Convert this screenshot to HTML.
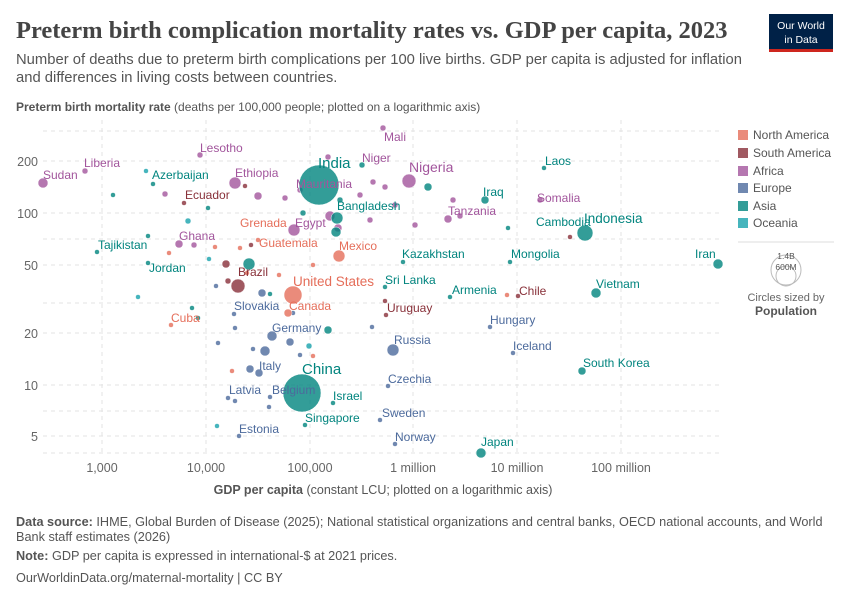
<!DOCTYPE html>
<html><head><meta charset="utf-8"><style>
body{margin:0;background:#fff;font-family:"Liberation Sans",sans-serif;}
</style></head><body>
<svg width="850" height="600" xmlns="http://www.w3.org/2000/svg" font-family="Liberation Sans, sans-serif">
<text x="16" y="38" font-family="Liberation Serif, serif" font-size="24.5" font-weight="bold" fill="#444">Preterm birth complication mortality rates vs. GDP per capita, 2023</text>
<text x="16" y="64" font-size="14.8" fill="#555">Number of deaths due to preterm birth complications per 100 live births. GDP per capita is adjusted for inflation</text>
<text x="16" y="82" font-size="14.8" fill="#555">and differences in living costs between countries.</text>
<rect x="769" y="14" width="64" height="36" fill="#002147"/>
<rect x="769" y="49" width="64" height="3" fill="#ce261e"/>
<text x="801" y="29" font-size="10.5" fill="#fff" text-anchor="middle">Our World</text>
<text x="801" y="43" font-size="10.5" fill="#fff" text-anchor="middle">in Data</text>
<text x="16" y="111" font-size="12" fill="#555"><tspan font-weight="bold">Preterm birth mortality rate</tspan> (deaths per 100,000 people; plotted on a logarithmic axis)</text>
<g stroke="#e3e3e3" stroke-dasharray="4,4" stroke-width="1">
<line x1="43" x2="722" y1="131" y2="131"/><line x1="43" x2="722" y1="161" y2="161"/><line x1="43" x2="722" y1="213" y2="213"/><line x1="43" x2="722" y1="239" y2="239"/><line x1="43" x2="722" y1="265" y2="265"/><line x1="43" x2="722" y1="303" y2="303"/><line x1="43" x2="722" y1="333" y2="333"/><line x1="43" x2="722" y1="385" y2="385"/><line x1="43" x2="722" y1="411" y2="411"/><line x1="43" x2="722" y1="436" y2="436"/><line x1="43" x2="722" y1="453" y2="453"/>
<line x1="102" x2="102" y1="120" y2="453"/><line x1="206" x2="206" y1="120" y2="453"/><line x1="310" x2="310" y1="120" y2="453"/><line x1="413" x2="413" y1="120" y2="453"/><line x1="517" x2="517" y1="120" y2="453"/><line x1="621" x2="621" y1="120" y2="453"/>
</g>
<g font-size="12.5" fill="#666" text-anchor="end">
<text x="38" y="166">200</text><text x="38" y="218">100</text><text x="38" y="270">50</text><text x="38" y="338">20</text><text x="38" y="390">10</text><text x="38" y="441">5</text>
</g>
<g font-size="12.5" fill="#666" text-anchor="middle">
<text x="102" y="472">1,000</text><text x="206" y="472">10,000</text><text x="310" y="472">100,000</text><text x="413" y="472">1 million</text><text x="517" y="472">10 million</text><text x="621" y="472">100 million</text>
</g>
<text x="383" y="494" font-size="12.5" fill="#555" text-anchor="middle"><tspan font-weight="bold">GDP per capita</tspan> (constant LCU; plotted on a logarithmic axis)</text>
<g fill-opacity="0.8" stroke="#fff" stroke-width="0.5">
<g fill="#a2559c">
<circle cx="43" cy="183" r="5"/><circle cx="85" cy="171" r="3"/><circle cx="200" cy="155" r="3"/><circle cx="235" cy="183" r="6"/><circle cx="258" cy="196" r="4"/><circle cx="165" cy="194" r="3"/><circle cx="179" cy="244" r="4"/><circle cx="194" cy="245" r="3"/><circle cx="294" cy="230" r="6"/><circle cx="383" cy="128" r="3"/><circle cx="409" cy="181" r="7"/><circle cx="328" cy="157" r="3"/><circle cx="448" cy="219" r="4"/><circle cx="330" cy="216" r="5"/><circle cx="338" cy="228" r="4"/><circle cx="373" cy="182" r="3"/><circle cx="360" cy="195" r="3"/><circle cx="385" cy="187" r="3"/><circle cx="460" cy="216" r="3"/><circle cx="540" cy="200" r="3"/><circle cx="285" cy="198" r="3"/><circle cx="300" cy="190" r="3"/><circle cx="395" cy="205" r="3"/><circle cx="453" cy="200" r="3"/><circle cx="370" cy="220" r="3"/><circle cx="415" cy="225" r="3"/>
</g>
<g fill="#00847e">
<circle cx="319" cy="185" r="20"/><circle cx="302" cy="393" r="19"/><circle cx="585" cy="233" r="8"/><circle cx="337" cy="218" r="6"/><circle cx="336" cy="232" r="5"/><circle cx="97" cy="252" r="2.5"/><circle cx="148" cy="263" r="2.5"/><circle cx="153" cy="184" r="2.5"/><circle cx="113" cy="195" r="2.5"/><circle cx="148" cy="236" r="2.5"/><circle cx="249" cy="264" r="6"/><circle cx="718" cy="264" r="5"/><circle cx="596" cy="293" r="5"/><circle cx="582" cy="371" r="4"/><circle cx="481" cy="453" r="5"/><circle cx="485" cy="200" r="4"/><circle cx="428" cy="187" r="4"/><circle cx="328" cy="330" r="4"/><circle cx="305" cy="425" r="2.5"/><circle cx="333" cy="403" r="2.5"/><circle cx="544" cy="168" r="2.5"/><circle cx="403" cy="262" r="2.5"/><circle cx="385" cy="287" r="2.5"/><circle cx="450" cy="297" r="2.5"/><circle cx="510" cy="262" r="2.5"/><circle cx="508" cy="228" r="2.5"/><circle cx="303" cy="213" r="3"/><circle cx="208" cy="208" r="2.5"/><circle cx="192" cy="308" r="2.5"/><circle cx="198" cy="318" r="2.5"/><circle cx="340" cy="200" r="3"/><circle cx="362" cy="165" r="3"/><circle cx="270" cy="294" r="2.5"/>
</g>
<g fill="#4c6a9c">
<circle cx="393" cy="350" r="6"/><circle cx="262" cy="293" r="4"/><circle cx="272" cy="336" r="5"/><circle cx="265" cy="351" r="5"/><circle cx="250" cy="369" r="4"/><circle cx="259" cy="373" r="4"/><circle cx="290" cy="342" r="4"/><circle cx="234" cy="314" r="2.5"/><circle cx="235" cy="328" r="2.5"/><circle cx="218" cy="343" r="2.5"/><circle cx="228" cy="398" r="2.5"/><circle cx="235" cy="401" r="2.5"/><circle cx="270" cy="397" r="2.5"/><circle cx="269" cy="407" r="2.5"/><circle cx="239" cy="436" r="2.5"/><circle cx="388" cy="386" r="2.5"/><circle cx="380" cy="420" r="2.5"/><circle cx="395" cy="444" r="2.5"/><circle cx="490" cy="327" r="2.5"/><circle cx="513" cy="353" r="2.5"/><circle cx="372" cy="327" r="2.5"/><circle cx="216" cy="286" r="2.5"/><circle cx="300" cy="355" r="2.5"/><circle cx="293" cy="313" r="2.5"/><circle cx="253" cy="349" r="2.5"/>
</g>
<g fill="#e56e5a">
<circle cx="293" cy="295" r="9"/><circle cx="339" cy="256" r="6"/><circle cx="288" cy="313" r="4"/><circle cx="171" cy="325" r="2.5"/><circle cx="240" cy="248" r="2.5"/><circle cx="258" cy="240" r="2.5"/><circle cx="169" cy="253" r="2.5"/><circle cx="215" cy="247" r="2.5"/><circle cx="313" cy="356" r="2.5"/><circle cx="507" cy="295" r="2.5"/><circle cx="247" cy="273" r="2.5"/><circle cx="313" cy="265" r="2.5"/><circle cx="279" cy="275" r="2.5"/><circle cx="232" cy="371" r="2.5"/>
</g>
<g fill="#883039">
<circle cx="238" cy="286" r="7"/><circle cx="226" cy="264" r="4"/><circle cx="228" cy="281" r="3"/><circle cx="184" cy="203" r="2.5"/><circle cx="245" cy="186" r="2.5"/><circle cx="251" cy="245" r="2.5"/><circle cx="386" cy="315" r="2.5"/><circle cx="518" cy="296" r="2.5"/><circle cx="570" cy="237" r="2.5"/><circle cx="385" cy="301" r="2.5"/>
</g>
<g fill="#18a3ad">
<circle cx="146" cy="171" r="2.5"/><circle cx="138" cy="297" r="2.5"/><circle cx="217" cy="426" r="2.5"/><circle cx="309" cy="346" r="3"/><circle cx="188" cy="221" r="3"/><circle cx="209" cy="259" r="2.5"/>
</g>
</g>
<g font-size="12">
<g fill="#a2559c"><text x="43" y="179">Sudan</text><text x="84" y="167">Liberia</text><text x="200" y="152">Lesotho</text><text x="235" y="177">Ethiopia</text><text x="296" y="188">Mauritania</text><text x="295" y="227">Egypt</text><text x="179" y="240">Ghana</text><text x="384" y="141">Mali</text><text x="362" y="162">Niger</text><text x="409" y="172" font-size="14">Nigeria</text><text x="448" y="215">Tanzania</text><text x="537" y="202">Somalia</text></g>
<g fill="#00847e"><text x="152" y="179">Azerbaijan</text><text x="98" y="249">Tajikistan</text><text x="149" y="272">Jordan</text><text x="318" y="168" font-size="15">India</text><text x="337" y="210">Bangladesh</text><text x="545" y="165">Laos</text><text x="483" y="196">Iraq</text><text x="536" y="226">Cambodia</text><text x="584" y="223" font-size="13.5">Indonesia</text><text x="402" y="258">Kazakhstan</text><text x="511" y="258">Mongolia</text><text x="695" y="258">Iran</text><text x="385" y="284">Sri Lanka</text><text x="452" y="294">Armenia</text><text x="596" y="288">Vietnam</text><text x="583" y="367">South Korea</text><text x="302" y="374" font-size="15">China</text><text x="333" y="400">Israel</text><text x="305" y="422">Singapore</text><text x="481" y="446">Japan</text></g>
<g fill="#4c6a9c"><text x="234" y="310">Slovakia</text><text x="272" y="332">Germany</text><text x="259" y="370">Italy</text><text x="229" y="394">Latvia</text><text x="272" y="394">Belgium</text><text x="239" y="433">Estonia</text><text x="394" y="344">Russia</text><text x="388" y="383">Czechia</text><text x="382" y="417">Sweden</text><text x="395" y="441">Norway</text><text x="490" y="324">Hungary</text><text x="513" y="350">Iceland</text></g>
<g fill="#e56e5a"><text x="240" y="227">Grenada</text><text x="259" y="247">Guatemala</text><text x="339" y="250">Mexico</text><text x="293" y="286" font-size="13.5">United States</text><text x="289" y="310">Canada</text><text x="171" y="322">Cuba</text></g>
<g fill="#883039"><text x="185" y="199">Ecuador</text><text x="238" y="276">Brazil</text><text x="387" y="312">Uruguay</text><text x="519" y="295">Chile</text></g>
</g>
<g font-size="12" fill="#555">
<rect x="738" y="130" width="10" height="10" fill="#e56e5a" fill-opacity="0.8"/><text x="753" y="139">North America</text>
<rect x="738" y="148" width="10" height="10" fill="#883039" fill-opacity="0.8"/><text x="753" y="157">South America</text>
<rect x="738" y="166" width="10" height="10" fill="#a2559c" fill-opacity="0.8"/><text x="753" y="175">Africa</text>
<rect x="738" y="183" width="10" height="10" fill="#4c6a9c" fill-opacity="0.8"/><text x="753" y="192">Europe</text>
<rect x="738" y="201" width="10" height="10" fill="#00847e" fill-opacity="0.8"/><text x="753" y="210">Asia</text>
<rect x="738" y="218" width="10" height="10" fill="#18a3ad" fill-opacity="0.8"/><text x="753" y="227">Oceania</text>
<line x1="738" x2="834" y1="242" y2="242" stroke="#ddd"/>
<circle cx="786" cy="270" r="15" fill="none" stroke="#bbb"/><circle cx="786" cy="276" r="10" fill="none" stroke="#bbb"/>
<text x="786" y="259" font-size="8.5" text-anchor="middle" fill="#555">1.4B</text><text x="786" y="270" font-size="8.5" text-anchor="middle" fill="#555">600M</text>
<text x="786" y="301" font-size="11" text-anchor="middle" fill="#666">Circles sized by</text>
<text x="786" y="315" font-size="12" text-anchor="middle" font-weight="bold" fill="#555">Population</text>
</g>
<g font-size="12.7" fill="#555">
<text x="16" y="526"><tspan font-weight="bold">Data source:</tspan> IHME, Global Burden of Disease (2025); National statistical organizations and central banks, OECD national accounts, and World</text>
<text x="16" y="541">Bank staff estimates (2026)</text>
<text x="16" y="560"><tspan font-weight="bold">Note:</tspan> GDP per capita is expressed in international-$ at 2021 prices.</text>
<text x="16" y="582">OurWorldinData.org/maternal-mortality | CC BY</text>
</g>
</svg>
</body></html>
